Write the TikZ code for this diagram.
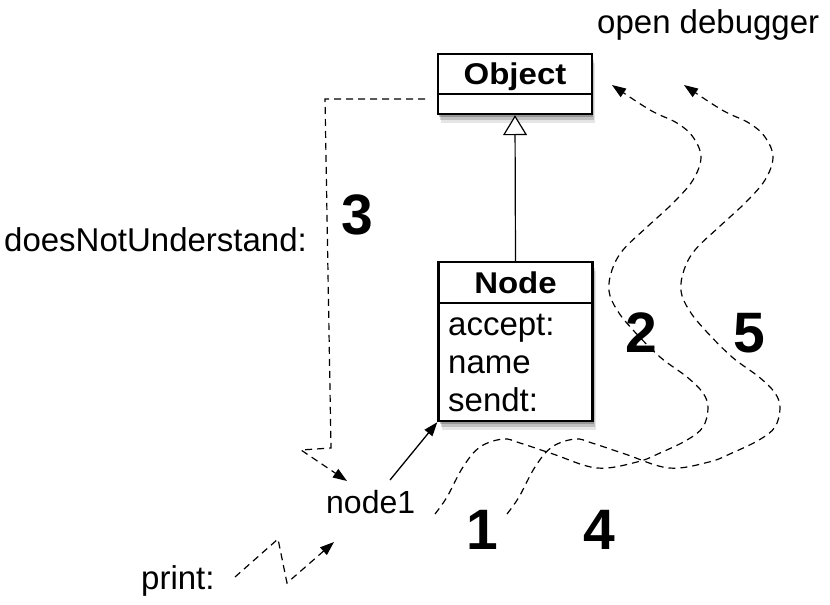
\documentclass[tikz,border=0pt]{standalone}
\usepackage{fontspec}
\setmainfont{Liberation Sans}
\usetikzlibrary{arrows.meta,shadows,calc}
\newcommand{\wavepts}{(435,-514) (447,-497) (463,-467) (480,-447) (503,-439) (520,-443) (553,-454) (597,-468) (637,-462) (660,-453) (687,-440) (703,-427) (708,-408) (703,-393) (687,-377) (660,-357) (633,-330) (617,-310) (609,-291) (612,-270) (623,-250) (647,-227) (673,-203) (693,-180) (701,-157) (693,-137) (677,-123) (650,-110) (612,-85)}
\begin{document}
\begin{tikzpicture}[x=1pt,y=1pt,
  txt/.style={font=\fontsize{33}{38}\selectfont, inner sep=0pt, anchor=base west},
  num/.style={font=\fontsize{57}{60}\selectfont\bfseries, inner sep=0pt},
  shadowed/.style={
    drop shadow={shadow xshift=1pt, shadow yshift=-3pt, opacity=0.22, fill=black},
    drop shadow={shadow xshift=2pt, shadow yshift=-6pt, opacity=0.16, fill=black},
    drop shadow={shadow xshift=3pt, shadow yshift=-9pt, opacity=0.10, fill=black}},
  umlbox/.style={draw, line width=2.4pt, fill=white, minimum width=154pt, inner sep=0pt, shadowed},
  title/.style={font=\fontsize{30}{34}\selectfont\bfseries, inner sep=0pt, anchor=base},
  dashline/.style={line width=1.2pt, dash pattern=on 7pt off 5pt},
  headtip/.style={-{Triangle[length=14pt,width=10pt]}},
]
\path[use as bounding box] (0,0) rectangle (830,-605);

% class boxes
\node[umlbox, minimum height=60pt] (obj) at (515,-84) {};
\draw[line width=2pt] ([yshift=-41pt]obj.north west) -- ([yshift=-41pt]obj.north east);
\node[title] (objt) at (515,-84) {\scalebox{1.1}[1]{Object}};

\node[umlbox, minimum height=159pt] (nd) at (515.5,-341.5) {};
\draw[line width=2pt] ([yshift=-42pt]nd.north west) -- ([yshift=-42pt]nd.north east);
\node[title] (ndt) at (515.5,-293) {\scalebox{1.1}[1]{Node}};
\node[txt] (acc) at (448,-335) {accept:};
\node[txt] (nam) at (448,-373) {name};
\node[txt] (snd) at (448,-411) {sendt:};

% inheritance
\draw[line width=1.2pt, -{Triangle[open, length=20pt, width=24pt, fill=white]}] (nd.north) -- (obj.south);

% labels
\node[txt] (dbg) at (597,-34) {open debugger};
\node[txt] (dnu) at (4,-251) {doesNotUnderstand:};
\node[txt, font=\fontsize{32}{36}\selectfont] (n1) at (326,-513) {node1};
\node[txt] (prt) at (141,-589) {print:};

\node[num] (k3) at (357,-215) {3};
\node[num] (k2) at (641,-333) {2};
\node[num] (k5) at (749,-333) {5};
\node[num] (k1) at (482,-530) {1};
\node[num] (k4) at (599,-530) {4};

% doesNotUnderstand path
\coordinate (a3) at (425,-99);
\coordinate (b3) at (325,-99);
\coordinate (c3) at (331,-448);
\coordinate (d3) at (301,-450);
\coordinate (e3) at (347,-481);
\draw[dashline, headtip] (a3) -- (b3) -- (c3) -- (d3) -- (e3);

% print path
\coordinate (p0) at (235,-577);
\coordinate (p1) at (278,-539);
\coordinate (p2) at (287,-583);
\coordinate (p3) at (334,-542);
\draw[dashline, headtip] (p0) -- (p1) -- (p2) -- (p3);

% node1 -> Node
\coordinate (n1s) at (390,-480);
\draw[line width=1.3pt, headtip] (n1s) -- (nd.south west);

% waves
\draw[dashline, headtip] plot[smooth, tension=0.6] coordinates {\wavepts};
\begin{scope}[xshift=72pt]
\draw[dashline, headtip] plot[smooth, tension=0.6] coordinates {\wavepts};
\end{scope}
\end{tikzpicture}
\end{document}
